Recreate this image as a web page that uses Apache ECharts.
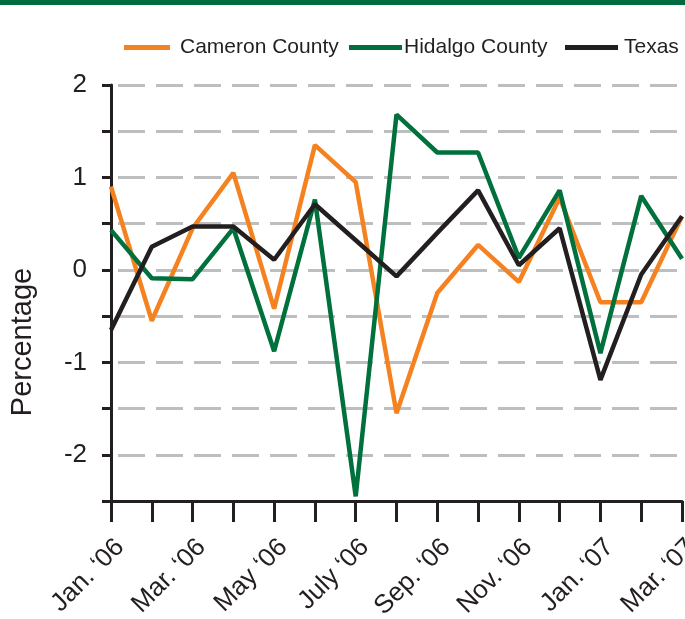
<!DOCTYPE html>
<html>
<head>
<meta charset="utf-8">
<script src="https://cdn.jsdelivr.net/npm/echarts@6/dist/echarts.min.js"></script>
<style>html,body{margin:0;padding:0;background:#fff;}#c{width:685px;height:619px;}</style>
</head>
<body>
<div id="c"></div>
<script>
var months = ['Jan. \u201806','Feb. \u201806','Mar. \u201806','Apr. \u201806','May \u201806','June \u201806','July \u201806','Aug. \u201806','Sep. \u201806','Oct. \u201806','Nov. \u201806','Dec. \u201806','Jan. \u201807','Feb. \u201807','Mar. \u201807'];
var cameron = [0.9, -0.55, 0.45, 1.05, -0.42, 1.35, 0.95, -1.55, -0.25, 0.27, -0.13, 0.78, -0.35, -0.35, 0.58];
var hidalgo = [0.43, -0.09, -0.1, 0.45, -0.88, 0.76, -2.45, 1.68, 1.27, 1.27, 0.13, 0.86, -0.9, 0.8, 0.12];
var texas = [-0.65, 0.25, 0.47, 0.47, 0.11, 0.71, 0.32, -0.07, 0.40, 0.86, 0.05, 0.45, -1.19, -0.05, 0.58];
var seriesNames = ['Cameron County', 'Hidalgo County', 'Texas'];
var colors = ['#f58220', '#00703c', '#231f20'];

var FONT = '"Liberation Sans", Arial, Helvetica, sans-serif';
var TXT = '#231f20';
var chart = echarts.init(document.getElementById('c'), null, {renderer: 'canvas'});

function legendAt(i, left, w, pad) {
  return {
    data: [seriesNames[i]],
    left: left, top: 37,
    itemWidth: w, itemHeight: 5,
    icon: 'rect',
    padding: 0,
    textStyle: {fontFamily: FONT, fontSize: 21, color: TXT, padding: [0, 0, 0, pad]},
    selectedMode: false
  };
}

var option = {
  animation: false,
  backgroundColor: '#fff',
  color: colors,
  graphic: [
    {type: 'rect', left: 0, top: 0, shape: {width: 685, height: 5}, style: {fill: '#006b3f'}},
    {type: 'text', x: 23, y: 342, rotation: Math.PI / 2,
     style: {text: 'Percentage', fontFamily: FONT, fontSize: 29, fill: TXT, align: 'center', verticalAlign: 'middle'}}
  ],
  legend: [legendAt(0, 124, 46, 5), legendAt(1, 349, 53, -3), legendAt(2, 565, 53, 1)],
  grid: {left: 111, right: 3, top: 85, bottom: 118, containLabel: false, outerBoundsMode: 'none'},
  xAxis: {
    type: 'category',
    data: months,
    boundaryGap: false,
    axisLine: {onZero: false, lineStyle: {color: TXT, width: 3}},
    axisTick: {interval: 0, length: 21, lineStyle: {color: TXT, width: 3}},
    axisLabel: {interval: 1, rotate: 45, margin: 33, verticalAlign: 'top', fontFamily: FONT, fontSize: 26, color: TXT, hideOverlap: false},
    splitLine: {show: false}
  },
  yAxis: {
    type: 'value',
    min: -2.5, max: 2, interval: 0.5,
    axisLine: {show: true, lineStyle: {color: TXT, width: 3}},
    axisTick: {show: true, length: 9, lineStyle: {color: TXT, width: 3}},
    axisLabel: {
      margin: 24, fontFamily: FONT, fontSize: 26, color: TXT,
      formatter: function (v) { return Number.isInteger(v) ? String(v) : ''; }
    },
    splitLine: {show: true, lineStyle: {color: '#bcbec0', width: 3, type: [27, 11], dashOffset: 31}}
  },
  series: [
    {name: seriesNames[0], type: 'line', data: cameron, showSymbol: false, symbol: 'none', lineStyle: {width: 4.5, color: colors[0]}, itemStyle: {color: colors[0]}},
    {name: seriesNames[1], type: 'line', data: hidalgo, showSymbol: false, symbol: 'none', lineStyle: {width: 4.5, color: colors[1]}, itemStyle: {color: colors[1]}},
    {name: seriesNames[2], type: 'line', data: texas, showSymbol: false, symbol: 'none', lineStyle: {width: 4.5, color: colors[2]}, itemStyle: {color: colors[2]}}
  ]
};
chart.setOption(option);
</script>
</body>
</html>
